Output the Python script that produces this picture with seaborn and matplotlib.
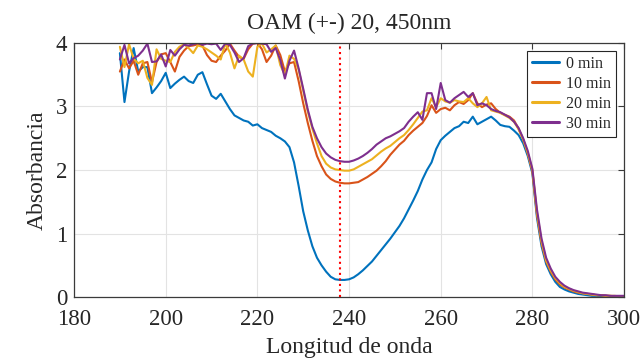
import numpy as np
import pandas as pd
import matplotlib
matplotlib.use("Agg")
import matplotlib.pyplot as plt
import seaborn as sns

# longitud de onda (nm), paso 1 nm
longitud = list(range(190, 301))

abs_0min = [
    3.84, 3.07, 3.55, 3.92, 3.55, 3.62, 3.62, 3.21, 3.30, 3.40,
    3.53, 3.29, 3.36, 3.42, 3.47, 3.40, 3.37, 3.50, 3.54, 3.35,
    3.17, 3.12, 3.20, 3.08, 2.96, 2.86, 2.82, 2.78, 2.76, 2.70,
    2.72, 2.66, 2.63, 2.60, 2.54, 2.50, 2.45, 2.36, 2.12, 1.75,
    1.35, 1.05, 0.80, 0.62, 0.50, 0.40, 0.32, 0.28, 0.27, 0.27,
    0.28, 0.31, 0.36, 0.42, 0.49, 0.56, 0.65, 0.74, 0.83, 0.92,
    1.02, 1.12, 1.24, 1.38, 1.52, 1.67, 1.85, 2.00, 2.12, 2.33,
    2.47, 2.54, 2.60, 2.66, 2.69, 2.76, 2.74, 2.84, 2.72, 2.76,
    2.80, 2.84, 2.78, 2.71, 2.69, 2.68, 2.62, 2.55, 2.42, 2.22,
    1.95, 1.25, 0.80, 0.52, 0.36, 0.24, 0.16, 0.12, 0.09, 0.07,
    0.05, 0.04, 0.03, 0.02, 0.02, 0.01, 0.01, 0.01, 0.01, 0.00,
    0.00,
]

abs_10min = [
    3.55, 3.74, 3.60, 3.72, 3.50, 3.68, 3.70, 3.38, 3.70, 3.82,
    3.84, 3.70, 3.55, 3.78, 3.88, 3.95, 3.96, 3.98, 3.96, 3.81,
    3.72, 3.70, 3.80, 3.88, 3.99, 3.88, 3.78, 3.75, 3.90, 3.99,
    4.00, 3.90, 3.70, 3.80, 3.96, 3.81, 3.55, 3.68, 3.70, 3.40,
    3.05, 2.74, 2.46, 2.22, 2.06, 1.93, 1.86, 1.82, 1.80, 1.79,
    1.79, 1.80, 1.81, 1.85, 1.89, 1.94, 1.99, 2.06, 2.14, 2.24,
    2.32, 2.40, 2.46, 2.55, 2.62, 2.68, 2.74, 2.85, 3.02, 2.90,
    2.96, 2.98, 2.94, 3.02, 3.07, 3.04, 3.10, 3.21, 3.05, 2.99,
    3.03, 3.05, 2.96, 2.90, 2.87, 2.84, 2.78, 2.65, 2.48, 2.26,
    1.98, 1.30, 0.85, 0.56, 0.40, 0.28, 0.20, 0.15, 0.12, 0.09,
    0.07, 0.06, 0.05, 0.04, 0.03, 0.03, 0.02, 0.02, 0.01, 0.01,
    0.01,
]

abs_20min = [
    3.94, 3.62, 3.98, 3.75, 3.68, 3.72, 3.45, 3.34, 3.90, 3.75,
    3.72, 3.70, 3.86, 3.94, 3.98, 3.92, 3.84, 3.96, 3.94, 3.90,
    3.85, 3.80, 3.74, 3.99, 3.85, 3.60, 3.80, 3.74, 3.55, 3.47,
    3.94, 3.99, 3.85, 3.90, 3.96, 3.65, 3.50, 3.80, 3.75, 3.58,
    3.25, 2.92, 2.65, 2.42, 2.22, 2.10, 2.04, 2.01, 2.00, 1.99,
    1.99, 2.01, 2.05, 2.09, 2.13, 2.17, 2.23, 2.29, 2.34, 2.38,
    2.44, 2.50, 2.55, 2.63, 2.72, 2.82, 2.92, 2.94, 3.13, 2.99,
    3.13, 3.08, 3.06, 3.10, 3.08, 3.07, 3.13, 3.05, 2.99, 3.05,
    3.15, 2.94, 2.92, 2.90, 2.86, 2.82, 2.76, 2.64, 2.48, 2.27,
    2.00, 1.33, 0.88, 0.58, 0.42, 0.30, 0.22, 0.16, 0.13, 0.10,
    0.08, 0.06, 0.05, 0.04, 0.03, 0.03, 0.02, 0.02, 0.02, 0.01,
    0.01,
]

abs_30min = [
    3.74, 3.97, 3.68, 3.76, 3.80, 3.88, 3.99, 3.70, 3.71, 3.82,
    3.63, 3.89, 3.80, 3.90, 3.97, 3.96, 3.98, 4.00, 3.97, 3.99,
    3.98, 3.99, 3.89, 3.99, 3.97, 3.85, 3.70, 3.76, 3.95, 3.99,
    4.00, 3.99, 3.98, 3.86, 3.92, 3.73, 3.44, 3.72, 3.88, 3.60,
    3.28, 2.95, 2.68, 2.50, 2.36, 2.26, 2.20, 2.16, 2.14, 2.13,
    2.13, 2.15, 2.18, 2.22, 2.27, 2.33, 2.40, 2.45, 2.50, 2.53,
    2.57, 2.61, 2.66, 2.76, 2.84, 2.91, 2.79, 3.21, 3.21, 2.96,
    3.37, 3.10, 3.06, 3.13, 3.18, 3.23, 3.15, 3.21, 3.02, 3.05,
    3.02, 2.96, 2.93, 2.91, 2.87, 2.83, 2.76, 2.66, 2.50, 2.30,
    2.02, 1.38, 0.92, 0.62, 0.45, 0.32, 0.24, 0.18, 0.14, 0.11,
    0.09, 0.07, 0.06, 0.05, 0.04, 0.03, 0.03, 0.02, 0.02, 0.02,
    0.02,
]

series = ["0 min", "10 min", "20 min", "30 min"]
colores = ["#0072BD", "#D95319", "#EDB120", "#7E2F8E"]
lambda_ref = 238

df = pd.DataFrame({
    "Longitud": longitud * 4,
    "Absorbancia": abs_0min + abs_10min + abs_20min + abs_30min,
    "Tiempo": [s for s in series for _ in longitud],
})

sns.set_theme(style="whitegrid")
plt.rcParams["font.family"] = ["Liberation Serif", "DejaVu Serif"]

fig = plt.figure(figsize=(6.44, 3.61), dpi=100)
ax = fig.add_axes([0.115, 0.177, 0.854, 0.704])

sns.lineplot(data=df, x="Longitud", y="Absorbancia", hue="Tiempo",
             hue_order=series, palette=colores, linewidth=1.5, ax=ax)
ax.axvline(lambda_ref, color="red", linestyle=":", linewidth=1.5)

ax.set_xlim(180, 300)
ax.set_ylim(0, 4)
ax.set_xticks(range(180, 301, 20))
ax.set_yticks(range(0, 5))
ax.grid(True, color="#e3e3e3", linewidth=0.8)
ax.set_facecolor("white")
for sp in ax.spines.values():
    sp.set_color("#3a3a3a")
    sp.set_linewidth(0.9)
ax.tick_params(direction="in", length=4, width=0.8, color="#3a3a3a",
               top=True, right=True, labelsize=16.5)
ax.tick_params(axis="x", pad=8.5)
ax.tick_params(axis="y", pad=5)

ax.set_title("OAM (+-) 20, 450nm", fontsize=17, pad=10)
ax.set_xlabel("Longitud de onda", fontsize=17, labelpad=5)
ax.set_ylabel("Absorbancia", fontsize=17, labelpad=6)

leg = ax.legend(loc="upper right", fontsize=11.5, frameon=True, fancybox=False,
                framealpha=1, edgecolor="#262626", handlelength=1.7,
                handletextpad=0.45, labelspacing=0.25, borderpad=0.3,
                borderaxespad=0.5)
leg.get_frame().set_linewidth(0.8)
for h in leg.get_lines():
    h.set_linewidth(2.2)

fig.savefig("out.png", dpi=100)
